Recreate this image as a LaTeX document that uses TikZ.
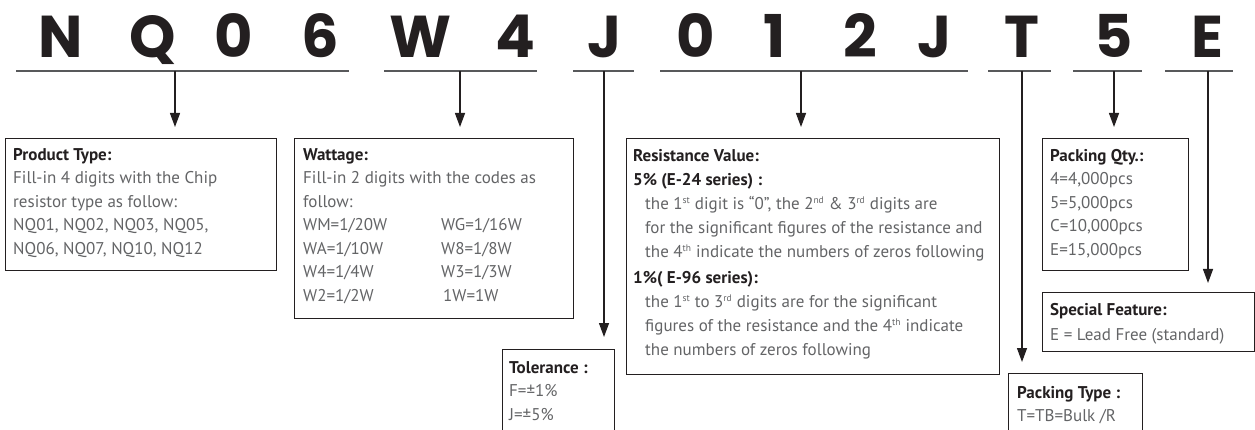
\documentclass[tikz,border=0pt]{standalone}
\usepackage{fontspec}
\setmainfont{PT Sans}
\newfontfamily\bigfont{Poppins}
\usetikzlibrary{calc,arrows.meta}
\definecolor{ink}{HTML}{231F20}
\definecolor{bodytxt}{HTML}{636466}
\definecolor{rulec}{HTML}{58595B}
\newcommand\supx[1]{\textsuperscript{\fontsize{9.5}{9.5}\selectfont #1}}
\newcommand\hd[1]{{\bfseries\color{ink}#1}}
\tikzset{
 letter/.style={font=\bigfont\bfseries\fontsize{59}{59}\selectfont, text=ink, anchor=base, inner sep=0pt},
 uline/.style={draw=rulec, line width=2pt},
 conn/.style={draw=ink, line width=1.3pt, -{Triangle[length=14pt,width=10pt]}},
 infobox/.style={draw=ink, line width=1.3pt, anchor=north west, inner sep=0pt},
 txt/.style={anchor=north west, inner sep=0pt, align=left, font=\fontsize{17}{23.5}\selectfont, text=bodytxt},
}
\begin{document}
\begin{tikzpicture}[x=1pt,y=-1pt]
\clip (0,0) rectangle (1255,430);
\useasboundingbox (0,0) rectangle (1255,430);
% letters
\foreach \ch/\xx [count=\i] in {N/61,Q/153,0/234,6/320,W/421,4/515,J/605,0/696,1/775,2/860,J/935,T/1022,5/1114,E/1207}
  \node[letter] (c\i) at (\xx,58) {\ch};
% underlines
\coordinate (l1a) at (16,71);   \coordinate (l1b) at (349,71);
\coordinate (l2a) at (384,71);  \coordinate (l2b) at (537,71);
\coordinate (l3a) at (573,71);  \coordinate (l3b) at (634,71);
\coordinate (l4a) at (660,71);  \coordinate (l4b) at (968,71);
\coordinate (l5a) at (988,71);  \coordinate (l5b) at (1051,71);
\coordinate (l6a) at (1073,71); \coordinate (l6b) at (1142,71);
\coordinate (l7a) at (1165,71); \coordinate (l7b) at (1233,71);
\foreach \k in {1,...,7} \draw[uline] (l\k a) -- (l\k b);
% boxes
\node[infobox, minimum width=271pt, minimum height=132pt] (prod) at (5,138) {};
\node[infobox, minimum width=279pt, minimum height=180pt] (watt) at (294,138) {};
\node[infobox, minimum width=112pt, minimum height=95pt] (tol) at (502,349) {};
\node[infobox, minimum width=373pt, minimum height=236pt] (res) at (626,138) {};
\node[infobox, minimum width=134pt, minimum height=70pt] (ptype) at (1008,373) {};
\node[infobox, minimum width=146pt, minimum height=132pt] (qty) at (1042,138) {};
\node[infobox, minimum width=212pt, minimum height=59pt] (spec) at (1042,292) {};
% arrow origins
\coordinate (u1) at (175,71);
\coordinate (u2) at (460,71);
\coordinate (u3) at (604,71);
\coordinate (u4) at (801,71);
\coordinate (u5) at (1022,71);
\coordinate (u6) at (1114,71);
\coordinate (u7) at (1208,71);
\draw[conn, shorten >=11pt] (u1) -- (u1 |- prod.north);
\draw[conn, shorten >=11pt] (u2) -- (u2 |- watt.north);
\draw[conn, shorten >=12pt] (u3) -- (u3 |- tol.north);
\draw[conn, shorten >=11pt] (u4) -- (u4 |- res.north);
\draw[conn, shorten >=11pt] (u5) -- (u5 |- ptype.north);
\draw[conn, shorten >=11pt] (u6) -- (u6 |- qty.north);
\draw[conn, shorten >=9pt] (u7) -- (u7 |- spec.north);
% texts
\node[txt] (tprod) at (13,148) {\hd{Product Type:}\\Fill-in 4 digits with the Chip\\resistor type as follow:\\NQ01, NQ02, NQ03, NQ05,\\NQ06, NQ07, NQ10, NQ12};
\node[txt] (twatt) at (303,148) {\hd{Wattage:}\\Fill-in 2 digits with the codes as\\follow:\\
\makebox[138pt][l]{WM=1/20W}WG=1/16W\\
\makebox[138pt][l]{WA=1/10W}W8=1/8W\\
\makebox[138pt][l]{W4=1/4W}W3=1/3W\\
\makebox[140pt][l]{W2=1/2W}1W=1W};
\node[txt] (ttol) at (509,361) {\hd{Tolerance :}\\F=±1\%\\J=±5\%};
\node[txt, font=\fontsize{17}{24}\selectfont] (tres) at (633,149) {\hd{Resistance Value:}\\\hd{5\% (E-24 series) :}\\
\hspace*{12pt}the 1\supx{st} digit is “0”, the 2\supx{nd} \& 3\supx{rd} digits are\\
\hspace*{12pt}for the significant figures of the resistance and\\
\hspace*{12pt}the 4\supx{th} indicate the numbers of zeros following\\[2pt]
\hd{1\%( E-96 series):}\\
\hspace*{12pt}the 1\supx{st} to 3\supx{rd} digits are for the significant\\
\hspace*{12pt}figures of the resistance and the 4\supx{th} indicate\\
\hspace*{12pt}the numbers of zeros following};
\node[txt] (tptype) at (1017,386) {\hd{Packing Type :}\\T=TB=Bulk /R};
\node[txt] (tqty) at (1050,149) {\hd{Packing Qty.:}\\4=4,000pcs\\5=5,000pcs\\C=10,000pcs\\E=15,000pcs};
\node[txt, font=\fontsize{17}{25}\selectfont] (tspec) at (1050,303) {\hd{Special Feature:}\\E = Lead Free (standard)};
\end{tikzpicture}
\end{document}
